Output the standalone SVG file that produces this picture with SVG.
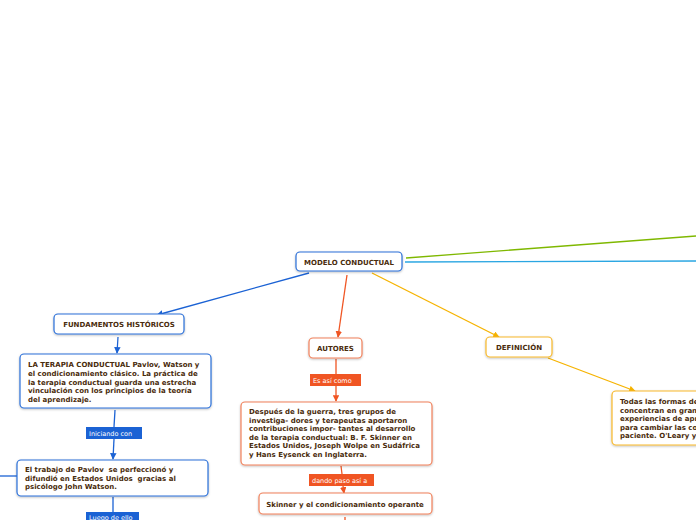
<svg xmlns="http://www.w3.org/2000/svg" width="696" height="520" viewBox="0 0 696 520">
<defs>
<marker id="ab" viewBox="0 0 10 10" refX="9" refY="5" markerWidth="5" markerHeight="5" orient="auto"><path d="M0,0 L10,5 L0,10 z" fill="#1b62d4"/></marker>
<marker id="ao" viewBox="0 0 10 10" refX="9" refY="5" markerWidth="5" markerHeight="5" orient="auto"><path d="M0,0 L10,5 L0,10 z" fill="#f05523"/></marker>
<marker id="ay" viewBox="0 0 10 10" refX="9" refY="5" markerWidth="5" markerHeight="5" orient="auto"><path d="M0,0 L10,5 L0,10 z" fill="#f6b300"/></marker>
<filter id="sh" x="-10%" y="-10%" width="120%" height="130%"><feDropShadow dx="0" dy="1" stdDeviation="0.8" flood-color="#000" flood-opacity="0.25"/></filter>
</defs>
<style>
.n{fill:#fff;stroke-width:1.2;filter:url(#sh)}
.b{stroke:#2a6fd8}
.o{stroke:#f0805a}
.y{stroke:#f7b82a}
.t{font-family:"DejaVu Sans",Verdana,sans-serif;font-weight:bold;font-size:7px;fill:#4a2c0c;white-space:pre}
.l{font-family:"DejaVu Sans",Verdana,sans-serif;font-size:6.5px;fill:#fff}
.cb{stroke:#1b62d4;stroke-width:1.3;fill:none}
.co{stroke:#f05523;stroke-width:1.3;fill:none}
.cy{stroke:#f6b300;stroke-width:1.3;fill:none}
</style>
<rect width="696" height="520" fill="#fff"/>
<g id="connectors">
<line x1="406" y1="258" x2="696" y2="236" stroke="#7fb800" stroke-width="1.3"/>
<line x1="405" y1="262" x2="696" y2="261" stroke="#2aa6e2" stroke-width="1.3"/>
<line class="cb" x1="309" y1="273" x2="157" y2="315" marker-end="url(#ab)"/>
<line class="cb" x1="118" y1="337" x2="117" y2="353" marker-end="url(#ab)"/>
<line class="cb" x1="115" y1="410" x2="114" y2="427"/>
<line class="cb" x1="114" y1="439" x2="113" y2="459" marker-end="url(#ab)"/>
<line class="cb" x1="0" y1="476" x2="17" y2="476"/>
<line class="cb" x1="113" y1="497" x2="113" y2="512"/>
<line class="co" x1="347" y1="275" x2="338" y2="337" marker-end="url(#ao)"/>
<line class="co" x1="336" y1="359" x2="336" y2="374"/>
<line class="co" x1="336" y1="386" x2="336" y2="401" marker-end="url(#ao)"/>
<line class="co" x1="341" y1="466" x2="342" y2="474"/>
<line class="co" x1="343" y1="486" x2="344" y2="493" marker-end="url(#ao)"/>
<line class="co" x1="345" y1="517" x2="345" y2="520"/>
<line class="cy" x1="372" y1="273" x2="499" y2="337" marker-end="url(#ay)"/>
<line class="cy" x1="548" y1="358" x2="635" y2="391" marker-end="url(#ay)"/>
</g>
<g id="modelo"><rect class="n b" x="296" y="252" width="106" height="19" rx="4"/><text class="t" x="349" y="264.5" text-anchor="middle">MODELO CONDUCTUAL</text></g>
<g id="fundamentos"><rect class="n b" x="54" y="314" width="130" height="20" rx="4"/><text class="t" x="119" y="327" text-anchor="middle">FUNDAMENTOS HISTÓRICOS</text></g>
<g id="terapia"><rect class="n b" x="20" y="354" width="191" height="54" rx="4"/><text class="t"><tspan x="28" y="367">LA TERAPIA CONDUCTUAL Pavlov, Watson y</tspan><tspan x="28" y="376">el condicionamiento clásico. La práctica de</tspan><tspan x="28" y="384.5">la terapia conductual guarda una estrecha</tspan><tspan x="28" y="393">vinculación con los principios de la teoría</tspan><tspan x="28" y="401.5">del aprendizaje.</tspan></text></g>
<g id="lbl-iniciando"><rect x="86" y="427" width="56" height="12" fill="#1b62d4"/><text class="l" x="89" y="435.5">Iniciando con</text></g>
<g id="trabajo"><rect class="n b" x="17" y="460" width="191" height="36" rx="4"/><text class="t"><tspan x="25" y="472">El trabajo de Pavlov  se perfeccionó y</tspan><tspan x="25" y="480.5">difundió en Estados Unidos  gracias al</tspan><tspan x="25" y="489">psicólogo John Watson.</tspan></text></g>
<g id="lbl-luego"><rect x="86" y="512" width="53" height="12" fill="#1b62d4"/><text class="l" x="89" y="519.5">Luego de ello</text></g>
<g id="autores"><rect class="n o" x="309" y="338" width="53" height="20" rx="4"/><text class="t" x="335.5" y="351" text-anchor="middle">AUTORES</text></g>
<g id="lbl-esasi"><rect x="310" y="374" width="51" height="12" fill="#f05523"/><text class="l" x="313" y="382.5">Es así como</text></g>
<g id="despues"><rect class="n o" x="241" y="402" width="191" height="63" rx="4"/><text class="t"><tspan x="249" y="414">Después de la guerra, tres grupos de</tspan><tspan x="249" y="422.5">investiga- dores y terapeutas aportaron</tspan><tspan x="249" y="431">contribuciones impor- tantes al desarrollo</tspan><tspan x="249" y="439.5">de la terapia conductual: B. F. Skinner en</tspan><tspan x="249" y="448">Estados Unidos, Joseph Wolpe en Sudáfrica</tspan><tspan x="249" y="456.5">y Hans Eysenck en Inglaterra.</tspan></text></g>
<g id="lbl-dando"><rect x="309" y="474" width="65" height="12" fill="#f05523"/><text class="l" x="312" y="482.5">dando paso así a</text></g>
<g id="skinner"><rect class="n o" x="259" y="493" width="173" height="21" rx="4"/><text class="t" x="345" y="506.5" text-anchor="middle">Skinner y el condicionamiento operante</text></g>
<g id="definicion"><rect class="n y" x="486" y="337" width="66" height="20" rx="4"/><text class="t" x="519" y="350" text-anchor="middle">DEFINICIÓN</text></g>
<g id="todas"><rect class="n y" x="612" y="391" width="100" height="54" rx="4"/><text class="t"><tspan x="620" y="404">Todas las formas de</tspan><tspan x="620" y="412.5">concentran en gran</tspan><tspan x="620" y="421">experiencias de apr</tspan><tspan x="620" y="429.5">para cambiar las co</tspan><tspan x="620" y="438">paciente. O'Leary y</tspan></text></g>
</svg>
